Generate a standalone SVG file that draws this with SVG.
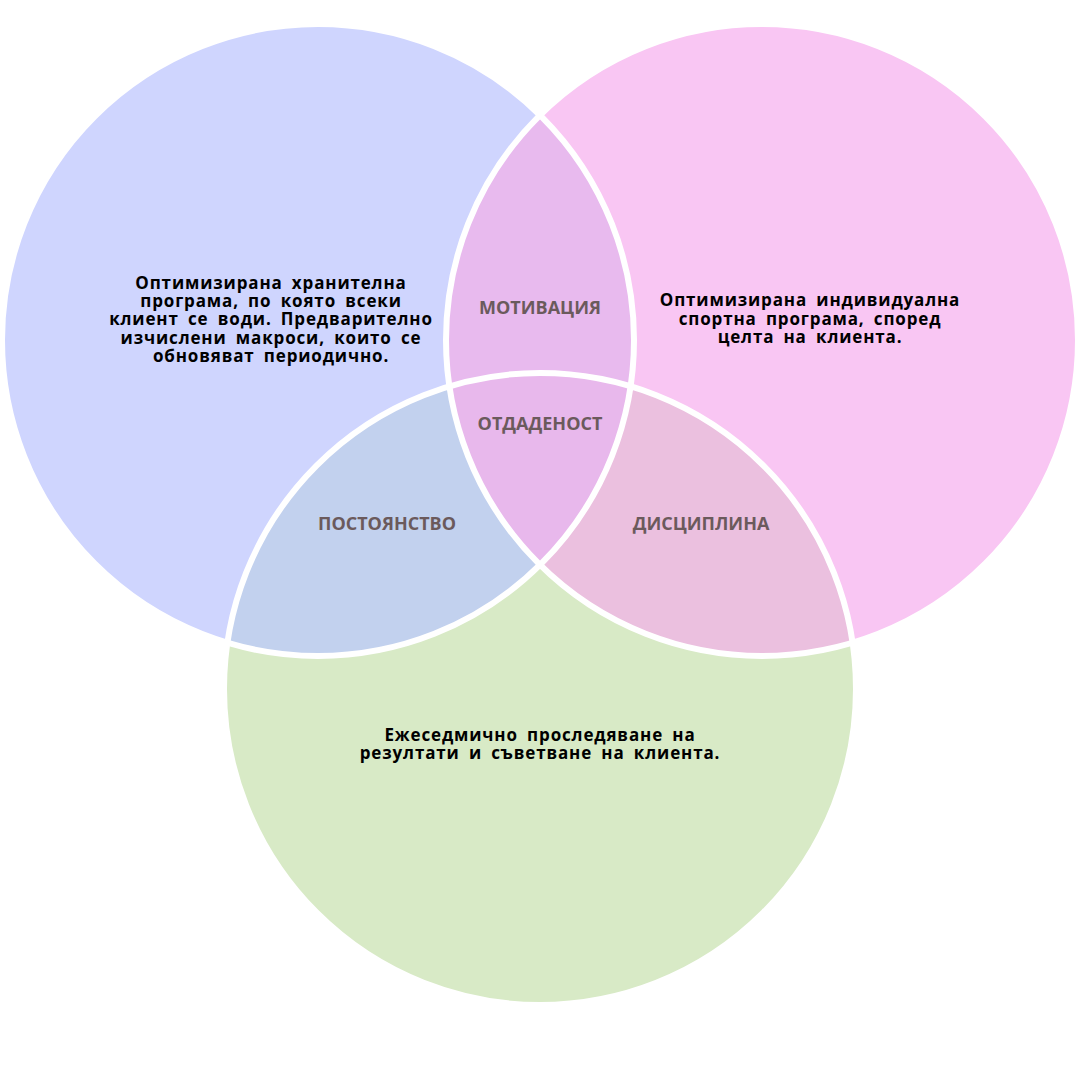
<svg xmlns="http://www.w3.org/2000/svg" width="1080" height="1080" viewBox="0 0 1080 1080">
  <style>
    .body { font-family: "Open Sans", "Noto Sans", "DejaVu Sans", sans-serif; font-weight: 700; font-size: 17px; fill: #000000; text-anchor: middle; letter-spacing: 0.85px; word-spacing: 4px; }
    .label { font-family: "Open Sans", "Noto Sans", "DejaVu Sans", sans-serif; font-weight: 700; font-size: 18px; fill: #6B5A5C; text-anchor: middle; }
    .outline { fill: none; stroke: #FFFFFF; stroke-width: 6; }
  </style>
  <defs>
    <clipPath id="cL"><circle cx="318" cy="340" r="316"/></clipPath>
    <clipPath id="cR"><circle cx="762" cy="340" r="316"/></clipPath>
    <clipPath id="cB"><circle cx="540" cy="689" r="316"/></clipPath>
  </defs>
  <rect width="1080" height="1080" fill="#FFFFFF"/>

  <g id="node-nutrition">
    <circle cx="318" cy="340" r="316" fill="#CFD5FE"/>
  </g>
  <g id="node-training">
    <circle cx="762" cy="340" r="316" fill="#F9C6F3"/>
  </g>
  <g id="node-tracking">
    <circle cx="540" cy="689" r="316" fill="#D8EAC6"/>
  </g>

  <g id="overlaps">
    <g clip-path="url(#cL)"><circle cx="762" cy="340" r="316" fill="#E8BAEE"/></g>
    <g clip-path="url(#cL)"><circle cx="540" cy="689" r="316" fill="#C2D1EE"/></g>
    <g clip-path="url(#cR)"><circle cx="540" cy="689" r="316" fill="#EBC0DF"/></g>
    <g clip-path="url(#cL)"><g clip-path="url(#cR)"><circle cx="540" cy="689" r="316" fill="#E8B8EC"/></g></g>
  </g>

  <g id="outlines">
    <circle class="outline" cx="318" cy="340" r="316"/>
    <circle class="outline" cx="762" cy="340" r="316"/>
    <circle class="outline" cx="540" cy="689" r="316"/>
  </g>

  <g id="text-nutrition">
    <text class="body" x="271" y="289">Оптимизирана хранителна</text>
    <text class="body" x="271" y="307">програма, по която всеки</text>
    <text class="body" x="271" y="325">клиент се води. Предварително</text>
    <text class="body" x="271" y="344">изчислени макроси, които се</text>
    <text class="body" x="271" y="362">обновяват периодично.</text>
  </g>
  <g id="text-training">
    <text class="body" x="810" y="306">Оптимизирана индивидуална</text>
    <text class="body" x="810" y="325">спортна програма, според</text>
    <text class="body" x="810" y="343">целта на клиента.</text>
  </g>
  <g id="text-tracking">
    <text class="body" x="540" y="741">Ежеседмично проследяване на</text>
    <text class="body" x="540" y="759">резултати и съветване на клиента.</text>
  </g>

  <g id="label-motivation"><text class="label" x="540" y="314">МОТИВАЦИЯ</text></g>
  <g id="label-dedication"><text class="label" x="540" y="430">ОТДАДЕНОСТ</text></g>
  <g id="label-consistency"><text class="label" x="387" y="530">ПОСТОЯНСТВО</text></g>
  <g id="label-discipline"><text class="label" x="701" y="530">ДИСЦИПЛИНА</text></g>
</svg>
